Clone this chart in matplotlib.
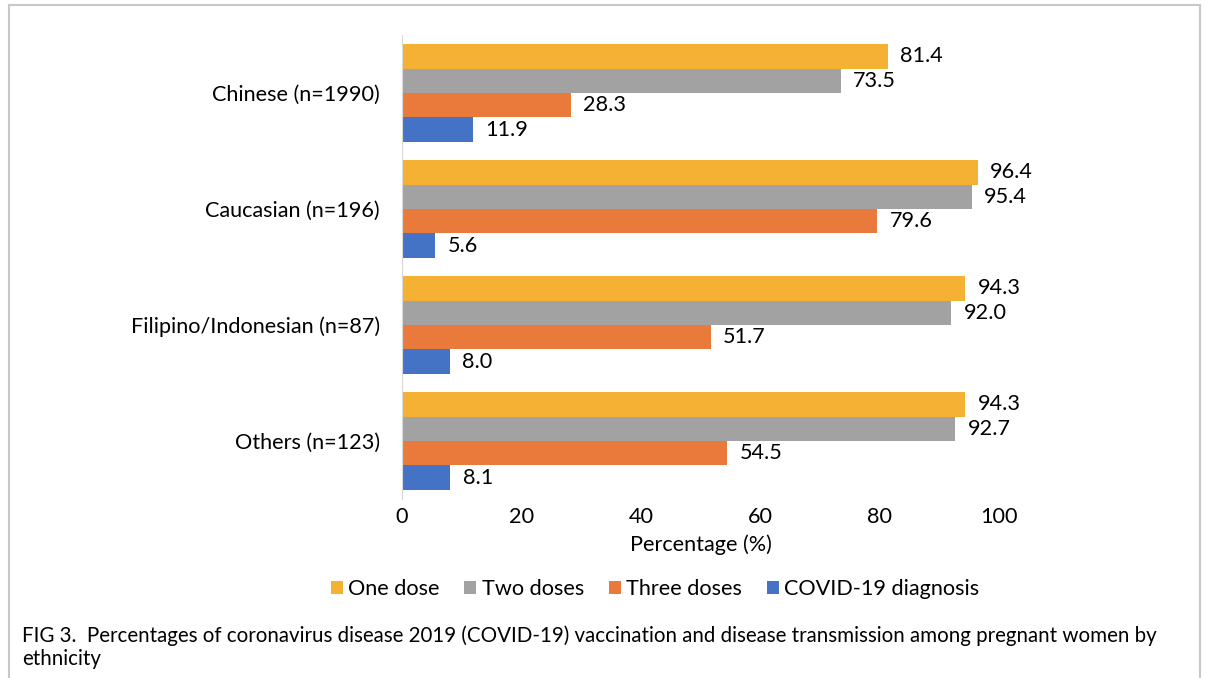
import numpy as np
import matplotlib.pyplot as plt
from matplotlib.lines import Line2D

plt.rcParams['font.family'] = ['Lato', 'DejaVu Sans']

# ethnic groups, top to bottom
groups = ['Chinese (n=1990)', 'Caucasian (n=196)', 'Filipino/Indonesian (n=87)', 'Others (n=123)']
series_names = ['One dose', 'Two doses', 'Three doses', 'COVID-19 diagnosis']
one_dose = [81.4, 96.4, 94.3, 94.3]
two_doses = [73.5, 95.4, 92.0, 92.7]
three_doses = [28.3, 79.6, 51.7, 54.5]
covid_diagnosis = [11.9, 5.6, 8.0, 8.1]
x_ticks = [0, 20, 40, 60, 80, 100]

colors = ['#F4B133', '#A2A2A2', '#E97A3B', '#4472C4']
caption = ('FIG 3.  Percentages of coronavirus disease 2019 (COVID-19) vaccination and disease transmission among pregnant women by\n'
           'ethnicity')

W, H = 1206, 678
FS = 15.6
fig = plt.figure(figsize=(W / 100, H / 100), dpi=100)
ax = fig.add_axes([402 / W, 1 - 499 / H, 597 / W, 464 / H])

y = np.arange(len(groups))
bar_h = 0.211
all_series = [one_dose, two_doses, three_doses, covid_diagnosis]
for i, (vals, name, col) in enumerate(zip(all_series, series_names, colors)):
    pos = y + (i - 1.5) * bar_h
    bars = ax.barh(pos, vals, height=bar_h, color=col, label=name)
    for b, v in zip(bars, vals):
        ax.annotate(f'{v:.1f}', (v, b.get_y() + b.get_height() / 2),
                    xytext=(9, 0), textcoords='offset points',
                    va='center', ha='left', fontsize=FS, color='black')

ax.set_ylim(len(groups) - 0.5, -0.5)
ax.set_xlim(0, 100)
ax.set_yticks(y)
ax.set_yticklabels(groups, fontsize=FS)
ax.set_xticks(x_ticks)
ax.set_xticklabels([str(t) for t in x_ticks], fontsize=FS)
ax.tick_params(axis='y', length=0, pad=16)
ax.tick_params(axis='x', length=0, pad=6)
for side in ['top', 'right', 'bottom']:
    ax.spines[side].set_visible(False)
ax.spines['left'].set_color('#D9D9D9')
ax.set_xlabel('Percentage (%)', fontsize=FS, labelpad=5)

fig.legend(loc='center', bbox_to_anchor=(655 / W, 1 - 589 / H), ncol=4, frameon=False,
           fontsize=FS, handlelength=0.55, handleheight=0.55, handletextpad=0.25,
           columnspacing=1.15, borderaxespad=0)

fig.text(22 / W, 1 - 625 / H, caption, fontsize=14.8, va='top', ha='left', linespacing=1.2)

# thin frame round the figure panel
frame = dict(color='#C8C8C8', lw=1.5, transform=fig.transFigure)
fig.add_artist(Line2D([9 / W, 1200 / W], [1 - 5 / H, 1 - 5 / H], **frame))
fig.add_artist(Line2D([9 / W, 9 / W], [0, 1 - 5 / H], **frame))
fig.add_artist(Line2D([1200 / W, 1200 / W], [0, 1 - 5 / H], **frame))

fig.savefig('out.png', dpi=100, facecolor='white')
